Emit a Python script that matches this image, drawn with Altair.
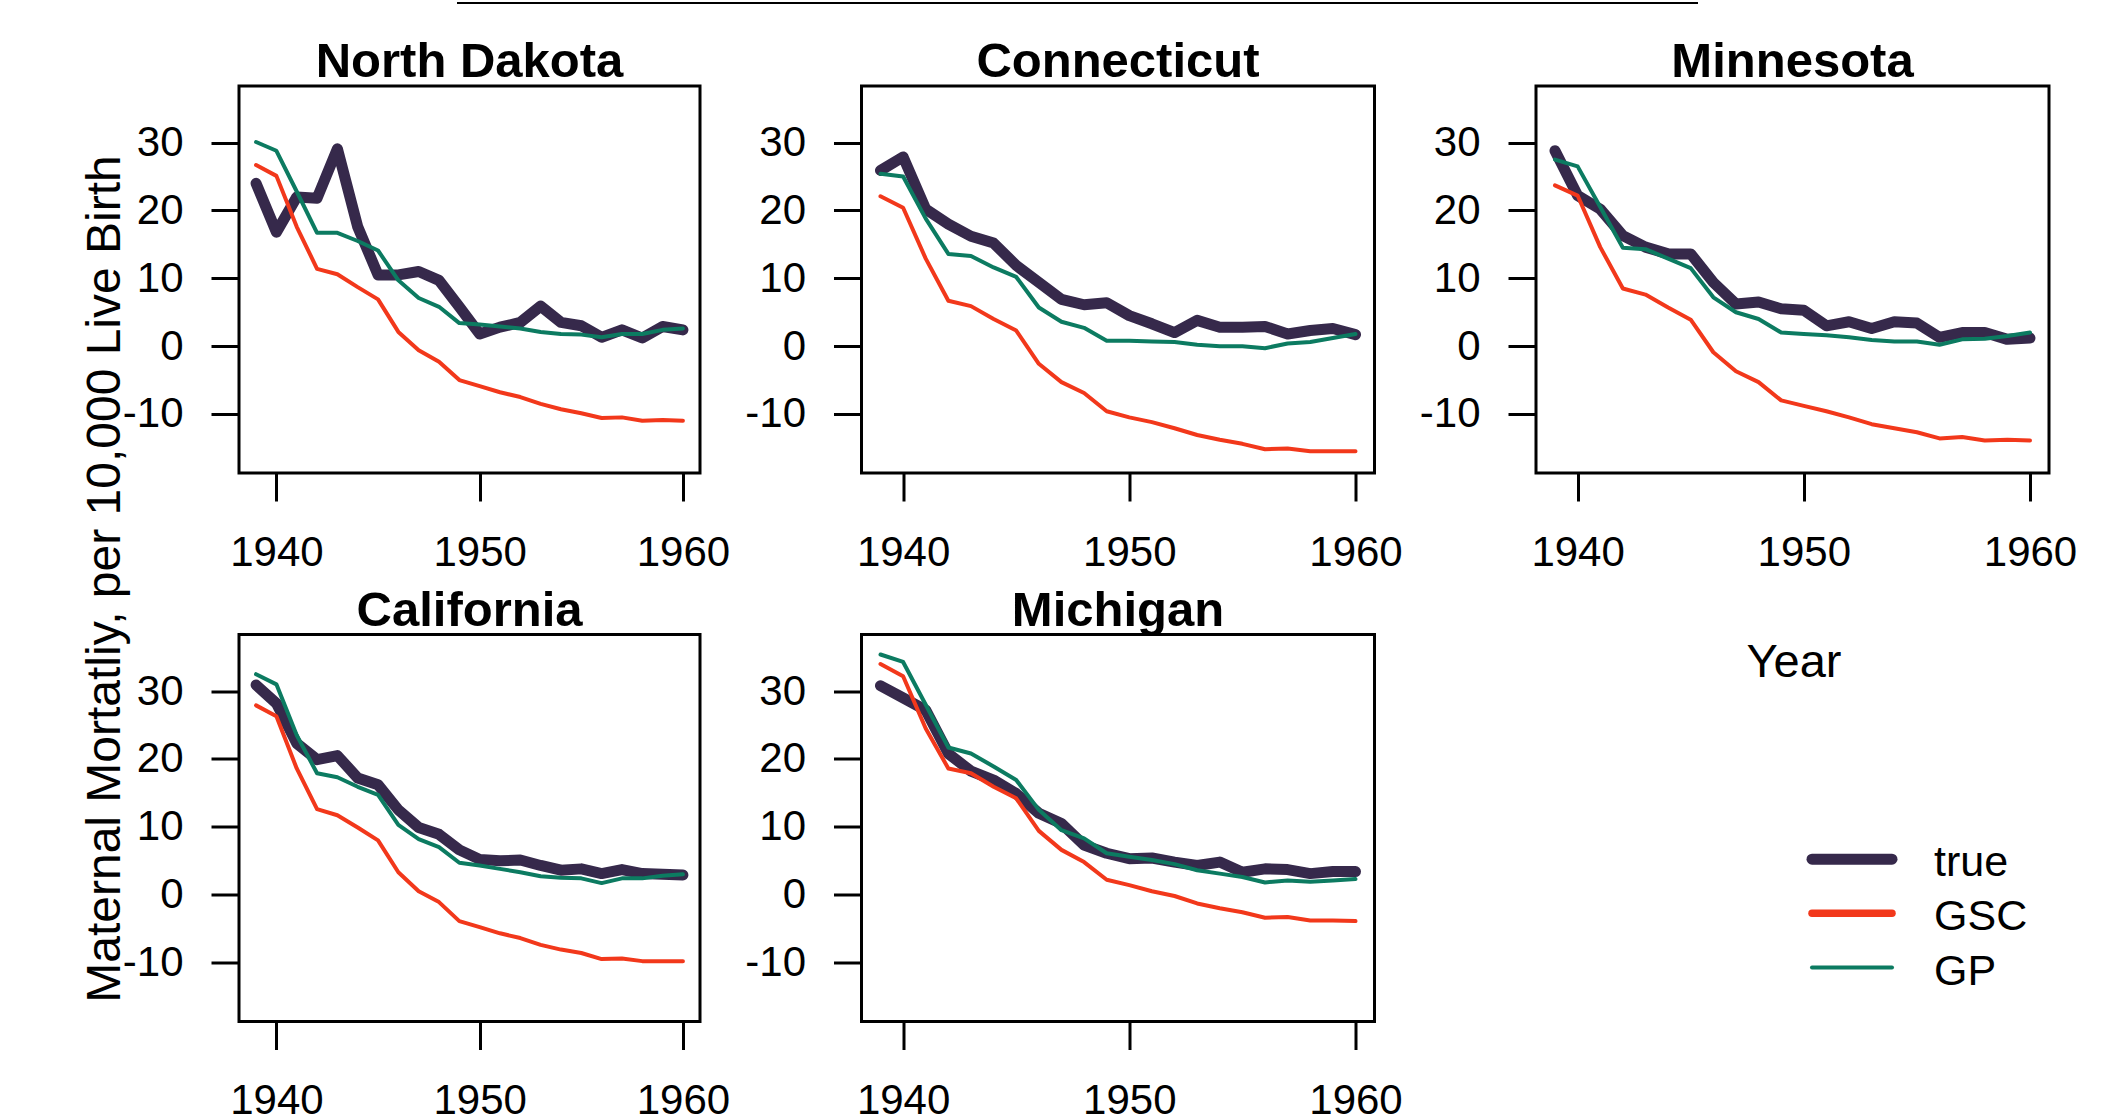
import altair as alt
import pandas as pd

# ---------------- data ----------------
years = list(range(1939, 1961))
x_ticks = [1940, 1950, 1960]
y_ticks = [-10, 0, 10, 20, 30]
states = ["North Dakota", "Connecticut", "Minnesota", "California", "Michigan"]
series_keys = ["truth", "GSC", "GP"]
series_labels = ["true", "GSC", "GP"]
y_title = "Maternal Mortatliy, per 10,000 Live Birth"
x_title = "Year"

nd_true = [24.0, 16.8, 22.0, 21.8, 29.1, 17.6, 10.5, 10.5, 11.0, 9.7, 5.8, 1.8, 2.8, 3.5, 5.9, 3.5, 3.0, 1.3, 2.4, 1.2, 2.9, 2.4]
nd_gsc = [26.7, 25.1, 17.6, 11.4, 10.6, 8.7, 6.9, 2.1, -0.6, -2.3, -5.0, -5.9, -6.8, -7.5, -8.5, -9.3, -9.9, -10.6, -10.5, -11.0, -10.9, -11.0]
nd_gp = [30.1, 28.8, 22.8, 16.7, 16.7, 15.5, 14.1, 9.7, 7.1, 5.8, 3.4, 3.2, 2.9, 2.6, 2.1, 1.8, 1.7, 1.3, 1.8, 1.8, 2.4, 2.6]

ct_true = [25.9, 27.9, 20.2, 18.0, 16.2, 15.2, 11.9, 9.4, 6.9, 6.1, 6.4, 4.5, 3.3, 2.0, 3.8, 2.8, 2.8, 2.9, 1.8, 2.3, 2.6, 1.7]
ct_gsc = [22.1, 20.4, 12.9, 6.7, 5.9, 4.0, 2.3, -2.6, -5.3, -6.9, -9.6, -10.5, -11.2, -12.1, -13.1, -13.8, -14.4, -15.2, -15.1, -15.5, -15.5, -15.5]
ct_gp = [25.4, 25.0, 18.8, 13.6, 13.3, 11.6, 10.2, 5.7, 3.6, 2.7, 0.8, 0.8, 0.7, 0.6, 0.2, 0.0, 0.0, -0.3, 0.4, 0.6, 1.2, 1.8]

mn_true = [28.8, 22.2, 20.2, 16.3, 14.6, 13.6, 13.6, 9.4, 6.2, 6.5, 5.5, 5.3, 3.0, 3.6, 2.6, 3.6, 3.4, 1.3, 2.0, 2.0, 1.0, 1.2]
mn_gsc = [23.7, 22.2, 14.6, 8.5, 7.6, 5.7, 3.9, -0.9, -3.7, -5.3, -8.0, -8.8, -9.6, -10.5, -11.5, -12.1, -12.7, -13.6, -13.4, -13.9, -13.8, -13.9]
mn_gp = [27.5, 26.5, 20.5, 14.5, 14.3, 12.9, 11.5, 7.2, 5.0, 4.0, 2.0, 1.8, 1.6, 1.3, 0.9, 0.7, 0.7, 0.2, 1.0, 1.1, 1.5, 2.0]

ca_true = [30.9, 28.2, 22.3, 19.9, 20.5, 17.2, 16.2, 12.5, 9.9, 8.9, 6.6, 5.2, 5.0, 5.1, 4.3, 3.6, 3.8, 3.1, 3.7, 3.1, 3.0, 2.9]
ca_gsc = [27.9, 26.3, 18.6, 12.6, 11.7, 9.9, 8.0, 3.3, 0.5, -1.1, -3.9, -4.8, -5.7, -6.4, -7.4, -8.1, -8.6, -9.5, -9.4, -9.8, -9.8, -9.8]
ca_gp = [32.5, 31.0, 23.5, 17.9, 17.3, 15.9, 14.7, 10.3, 8.2, 7.0, 4.7, 4.3, 3.8, 3.3, 2.7, 2.5, 2.4, 1.7, 2.4, 2.4, 2.8, 3.0]

mi_true = [30.8, 29.0, 27.2, 20.8, 18.2, 16.9, 14.9, 12.0, 10.5, 7.3, 6.1, 5.3, 5.4, 4.8, 4.3, 4.8, 3.3, 3.8, 3.7, 3.1, 3.4, 3.4]
mi_gsc = [34.0, 32.2, 24.5, 18.6, 17.9, 15.9, 14.2, 9.4, 6.6, 4.8, 2.2, 1.4, 0.5, -0.2, -1.3, -2.0, -2.6, -3.4, -3.3, -3.8, -3.8, -3.9]
mi_gp = [35.4, 34.3, 28.0, 21.7, 20.8, 18.9, 16.9, 12.5, 9.5, 8.3, 6.1, 5.6, 5.1, 4.5, 3.6, 3.1, 2.6, 1.8, 2.1, 1.9, 2.1, 2.3]

# ---------------- style ----------------
FONT = "Liberation Sans"
series_colors = ["#36294B", "#F2381B", "#0C7B61"]
series_widths = [11, 4, 4]
W_FIRST = 461
W_OTHER = 513
H = 387
x_dom = [1938.16, 1960.84]
y_dom = [-18.7, 38.35]

color_enc = alt.Color("series:N",
                      scale=alt.Scale(domain=series_keys, range=series_colors),
                      legend=None)


def make_panel(name, tr, gsc, gp, width, extra=None):
    df = pd.DataFrame({
        "year": years * 3,
        "value": tr + gsc + gp,
        "series": [k for k in series_keys for _ in years],
    })
    base = alt.Chart(df)
    x = alt.X("year:Q",
              scale=alt.Scale(domain=x_dom, nice=False, zero=False),
              axis=alt.Axis(values=x_ticks, format="d", title=None, labelPadding=31))
    y = alt.Y("value:Q",
              scale=alt.Scale(domain=y_dom, nice=False, zero=False),
              axis=alt.Axis(values=y_ticks, title=None, labelPadding=28,
                            labelExpr="datum.value < 0 ? '-' + format(-datum.value, 'd') : format(datum.value, 'd')"))
    layers = []
    for k, w in zip(series_keys, series_widths):
        layers.append(
            base.transform_filter(alt.datum.series == k)
            .mark_line(strokeWidth=w, strokeCap="round", strokeJoin="round")
            .encode(x=x, y=y, color=color_enc)
        )
    title = alt.Chart(pd.DataFrame({"name": [name]})).mark_text(
        font=FONT, fontSize=49, fontWeight="bold", align="center",
        baseline="alphabetic", color="black"
    ).encode(text="name:N", x=alt.value(width / 2), y=alt.value(-9))
    layers.append(title)
    if extra:
        layers += extra
    return alt.layer(*layers).properties(width=width, height=H)


one = pd.DataFrame({"a": [0]})
ylab = alt.Chart(pd.DataFrame({"t": [y_title]})).mark_text(
    font=FONT, fontSize=48, angle=270, align="center", baseline="middle", color="black"
).encode(text="t:N", x=alt.value(-133), y=alt.value(493))
top_rule = alt.Chart(one).mark_rule(color="black", strokeWidth=2).encode(
    x=alt.value(218), x2=alt.value(1459), y=alt.value(-83))
corner = alt.Chart(one).mark_rule(color="white", strokeWidth=1).encode(
    x=alt.value(-236.5), x2=alt.value(-236), y=alt.value(-83.5))

p1 = make_panel(states[0], nd_true, nd_gsc, nd_gp, W_FIRST, extra=[ylab, top_rule, corner])
p2 = make_panel(states[1], ct_true, ct_gsc, ct_gp, W_OTHER)
p3 = make_panel(states[2], mn_true, mn_gsc, mn_gp, W_OTHER)
p4 = make_panel(states[3], ca_true, ca_gsc, ca_gp, W_FIRST)
p5 = make_panel(states[4], mi_true, mi_gsc, mi_gp, W_OTHER)

# legend + Year cell
leg_df = pd.DataFrame({"series": series_keys, "label": series_labels})
leg_y = alt.Y("series:N",
              scale=alt.Scale(type="point", domain=series_keys, range=[224.7, 333], padding=0),
              axis=None)
leg_rules = alt.Chart(leg_df).mark_rule(strokeCap="round").encode(
    x=alt.value(276), x2=alt.value(356), y=leg_y, color=color_enc,
    strokeWidth=alt.StrokeWidth("series:O",
                                scale=alt.Scale(domain=series_keys, range=series_widths),
                                legend=None))
leg_text = alt.Chart(leg_df).mark_text(
    font=FONT, fontSize=43, align="left", baseline="alphabetic", dy=17, color="black"
).encode(x=alt.value(398), y=leg_y, text="label:N")
year_text = alt.Chart(pd.DataFrame({"t": [x_title]})).mark_text(
    font=FONT, fontSize=47, align="center", baseline="alphabetic", color="black"
).encode(text="t:N", x=alt.value(258), y=alt.value(42))
p6 = alt.layer(year_text, leg_rules, leg_text).properties(
    width=W_OTHER, height=H, view=alt.ViewBackground(stroke="transparent"))

chart = alt.concat(
    p1, p2, p3, p4, p5, p6,
    columns=3, spacing=161.5, bounds="flush", align="each"
).properties(
    padding=0, background="white"
).configure_view(
    stroke="black", strokeWidth=3
).configure_axis(
    domain=False, grid=False, ticks=True, tickColor="black", tickWidth=3,
    tickSize=28, labelFont=FONT, labelFontSize=42, labelColor="black",
    labelFlush=False, labelOverlap=False
)

chart.save("out.html", embed_options={"renderer": "svg", "actions": False})
